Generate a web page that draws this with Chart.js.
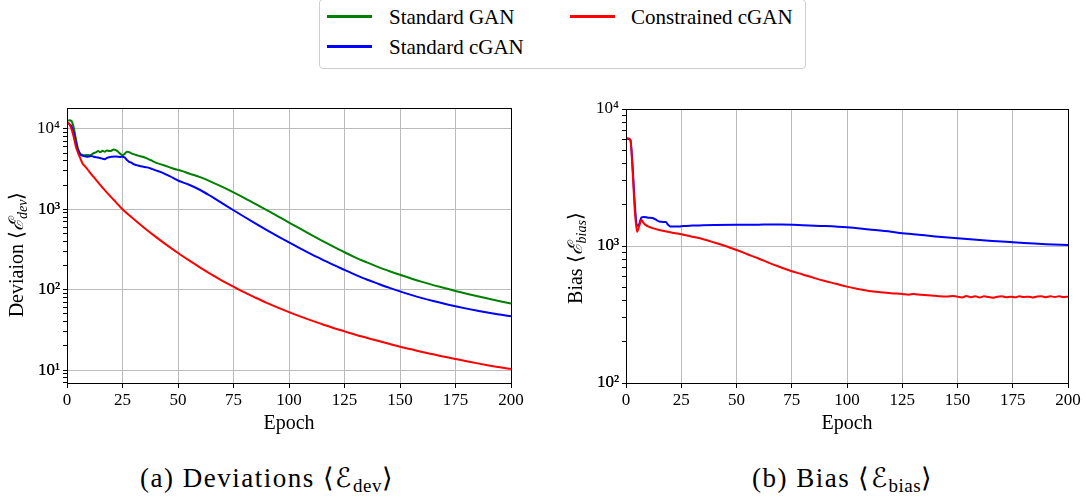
<!DOCTYPE html>
<html>
<head>
<meta charset="utf-8">
<script src="https://cdn.jsdelivr.net/npm/chart.js@4.4.1/dist/chart.umd.min.js"></script>
<style>
  body { margin: 0; background: #fff; width: 1086px; height: 499px; position: relative; overflow: hidden; font-family: "Liberation Serif", serif; color: #000; }
  .box { position: absolute; }
  #legend { position: absolute; left: 319px; top: -1px; width: 485px; height: 68px; border: 1px solid #cfcfcf; border-radius: 4px; background: #fff; }
  .item { position: absolute; font-size: 21px; line-height: 21px; white-space: nowrap; }
  .swatch { position: absolute; width: 45px; height: 2.5px; }
  .caption { position: absolute; top: 465px; font-family: "Liberation Serif", serif; font-size: 27px; line-height: 27px; letter-spacing: 1.5px; white-space: nowrap; }
  .caption sub { font-size: 19px; vertical-align: -5px; letter-spacing: 0.5px; }
</style>
</head>
<body>
<div id="legend">
  <div class="swatch" style="left:7px;top:15px;background:#008000"></div>
  <div class="item" style="left:69px;top:7px">Standard GAN</div>
  <div class="swatch" style="left:7px;top:45px;background:#0000ff"></div>
  <div class="item" style="left:69px;top:37px">Standard cGAN</div>
  <div class="swatch" style="left:250px;top:15px;background:#ff0000"></div>
  <div class="item" style="left:311px;top:7px">Constrained cGAN</div>
</div>

<div class="box" style="left:0;top:80px;width:540px;height:370px"><canvas id="devChart" width="540" height="370"></canvas></div>
<div class="box" style="left:545px;top:80px;width:541px;height:370px"><canvas id="biasChart" width="541" height="370"></canvas></div>

<div class="caption" style="left:140px">(a) Deviations &#x27E8;&#x2130;<sub>dev</sub>&#x27E9;</div>
<div class="caption" style="left:752px">(b) Bias &#x27E8;&#x2130;<sub>bias</sub>&#x27E9;</div>

<script>
// Deviations (left panel)
var devGanEpochs = [0,1,2,3,4,5,6,7,8,9,10,11,12,13,14,15,16,17,18,19,20,21,22,23,24,25,26,27,28,29,30,
    32,34,36,38,40,42,44,46,48,50,52,
    55,60,65,70,75,80,85,90,95,100,105,110,115,120,125,130,135,140,145,150,155,160,165,170,175,180,185,190,195,200];
var devGan = [12600,12800,12600,10500,7500,5600,4900,4750,4700,4750,4700,4800,5000,5100,5300,5150,5350,5200,5400,5300,5350,5550,5450,5200,4900,4700,4900,5200,5150,4950,4850,
    4650,4500,4300,4050,3800,3650,3500,3350,3200,3090,2985,
    2786,2512,2198,1897,1622,1377,1161,977,818,684,573,481,405,343,292,251,219,192,171,153,138,125,114,105,96.4,89.1,82.6,76.9,71.8,67.3];

var devCganEpochs = [0,1,2,3,4,5,6,7,8,9,10,11,12,13,14,15,16,17,18,19,20,
    22,24,25,26,27,28,29,30,32,34,36,38,40,42,44,46,48,50,
    55,60,65,70,75,80,85,90,95,100,105,110,115,120,125,130,135,140,145,150,155,160,165,170,175,180,185,190,195,200];
var devCgan = [11800,11500,10800,9000,6800,5400,4800,4650,4550,4500,4550,4600,4500,4450,4400,4350,4250,4200,4350,4450,4500,
    4520,4480,4500,4400,4100,3900,3800,3650,3500,3400,3320,3200,3050,2920,2760,2600,2440,2280,
    2018,1738,1445,1186,973,802,664,552,461,387,327,277,237,203,176,153,134,119,106,95.1,86.1,78.5,72.1,66.7,62.1,58.1,54.6,51.5,49.0,46.8];

var devConEpochs = [0,1,2,3,4,5,6,7,8,9,10,12,14,16,18,20,22,25,
    30,35,40,45,50,55,60,65,70,75,80,85,90,95,100,105,110,115,120,125,130,135,140,145,150,155,160,165,170,175,180,185,190,195,200];
var devCon = [12200,11500,10000,8000,6000,5000,4300,3700,3450,3200,2950,2523,2163,1862,1614,1406,1230,1000,
    757,582,454,358,286,231,188,155,129,109,92.3,79.3,68.5,59.8,52.6,46.6,41.5,37.2,33.4,30.3,27.5,25.2,23.1,21.2,19.5,18.1,16.8,15.7,14.6,13.7,12.9,12.1,11.4,10.8,10.3];

// Bias (right panel)
var biasCganEpochs = [0,1,2,3,4,5,6,7,8,10,12,14,15,17,18,19,20,22,24,26,30,35,40,50,60,70,80,90,100,110,120,125,130,140,150,160,170,175,180,190,200];
var biasCgan = [6100,6050,5900,3800,2000,1400,1450,1620,1630,1610,1600,1540,1510,1500,1500,1430,1390,1385,1390,1400,1410,1420,1425,1430,1432,1433,1420,1400,1370,1320,1270,1240,1220,1175,1137,1105,1078,1064,1050,1030,1016];

var biasConEpochs = [0,1,2,3,4,5,6,7,8,9,10,12,15,20,25,30,35,40,45,50,55,60,65,70,75,80,85,90,95,100,105,110,115,120,125,128,130,132,135,138,140,142,145,148,150,152,154,156,158,160,162,164,166,168,170,172,174,176,178,180,182,184,186,188,190,192,194,196,198,200];
var biasCon = [6150,6100,5950,3500,1800,1270,1400,1550,1470,1420,1390,1350,1310,1260,1220,1170,1120,1060,1000,935,870,810,750,700,655,620,585,555,530,505,485,470,460,452,447,441,447,442,438,436,433,430,428,431,427,421,431,423,429,421,430,424,419,426,429,423,427,422,429,424,427,421,428,430,423,429,425,429,424,427];

var devDecades = [10, 100, 1000, 10000];
var biasDecades = [100, 1000, 10000];
var epochTicks = [0, 25, 50, 75, 100, 125, 150, 175, 200];

var SUP = { '1': '\u00B9', '2': '\u00B2', '3': '\u00B3', '4': '\u2074' };
var GRID = '#bbbbbb';

function pts(xs, ys) {
    return xs.map(function (x, i) { return { x: x, y: ys[i] }; });
}

function line(label, color, xs, ys, order) {
    return {
        label: label,
        data: pts(xs, ys),
        borderColor: color,
        backgroundColor: color,
        borderWidth: 2,
        pointRadius: 0,
        cubicInterpolationMode: 'monotone',
        order: order
    };
}

// draws the y title with italic script E and subscript
var axisTitle = {
    id: 'axisTitle',
    afterDraw: function (chart, args, opts) {
        var ctx = chart.ctx;
        var a = chart.chartArea;
        ctx.save();
        ctx.translate(opts.x, (a.top + a.bottom) / 2 + opts.shift);
        ctx.rotate(-Math.PI / 2);
        ctx.fillStyle = '#000';
        ctx.textBaseline = 'alphabetic';
        var parts = [
            { t: opts.word + ' \u27E8', f: '20px "Liberation Serif"', dy: 0 },
            { t: '\u2130', f: 'italic 20px "Liberation Serif"', dy: 0 },
            { t: opts.sub, f: 'italic 14px "Liberation Serif"', dy: 4 },
            { t: '\u27E9', f: '20px "Liberation Serif"', dy: 0 }
        ];
        var w = 0;
        parts.forEach(function (p) { ctx.font = p.f; p.w = ctx.measureText(p.t).width; w += p.w; });
        var x = -w / 2;
        parts.forEach(function (p) { ctx.font = p.f; ctx.fillText(p.t, x, 7 + p.dy); x += p.w; });
        ctx.restore();
    }
};

// black box round the plot area
var frame = {
    id: 'frame',
    afterDraw: function (chart) {
        var ctx = chart.ctx;
        var a = chart.chartArea;
        ctx.save();
        ctx.strokeStyle = '#000';
        ctx.lineWidth = 1;
        ctx.strokeRect(Math.round(a.left) + 0.5, Math.round(a.top) + 0.5, Math.round(a.right - a.left), Math.round(a.bottom - a.top));
        ctx.restore();
    }
};

function makeChart(canvasId, datasets, decades, ymin, ymax, pad, yWidth, title) {
    var canvas = document.getElementById(canvasId);
    var tickFont = { family: 'Liberation Serif', size: 17 };
    return new Chart(canvas, {
        type: 'line',
        data: { datasets: datasets },
        plugins: [axisTitle, frame],
        options: {
            responsive: false,
            animation: false,
            layout: { padding: pad },
            plugins: {
                legend: { display: false },
                tooltip: { enabled: false },
                axisTitle: title
            },
            scales: {
                x: {
                    type: 'linear',
                    min: 0,
                    max: 200,
                    afterBuildTicks: function (s) { s.ticks = epochTicks.map(function (v) { return { value: v }; }); },
                    afterFit: function (s) { s.height = 67; },
                    ticks: { color: '#000', font: tickFont, padding: 2, maxRotation: 0, autoSkip: false },
                    grid: { color: GRID, tickColor: '#000', tickLength: 5 },
                    border: { display: true, color: '#000', width: 1 },
                    title: {
                        display: true,
                        text: 'Epoch',
                        color: '#000',
                        font: { family: 'Liberation Serif', size: 20 },
                        padding: { top: 0, bottom: 14 }
                    }
                },
                y: {
                    type: 'logarithmic',
                    min: ymin,
                    max: ymax,
                    afterBuildTicks: function (s) {
                        var t = [];
                        decades.forEach(function (d) {
                            for (var k = 1; k < 10; k++) {
                                var v = d * k / 10;
                                if (v >= ymin && v <= ymax) t.push({ value: v });
                            }
                            if (d >= ymin && d <= ymax && t.every(function (o) { return o.value !== d; })) t.push({ value: d });
                        });
                        t.sort(function (p, q) { return p.value - q.value; });
                        s.ticks = t;
                    },
                    afterFit: function (s) { s.width = yWidth; },
                    ticks: {
                        color: '#000',
                        font: tickFont,
                        padding: 3,
                        autoSkip: false,
                        callback: function (v) {
                            var i = decades.indexOf(v);
                            if (i < 0) return '';
                            return '10' + SUP[String(Math.round(Math.log10(v)))];
                        }
                    },
                    grid: {
                        color: function (c) { return decades.indexOf(c.tick.value) >= 0 ? GRID : 'rgba(0,0,0,0)'; },
                        tickColor: '#000',
                        tickLength: 4
                    },
                    border: { display: true, color: '#000', width: 1 }
                }
            }
        }
    });
}

makeChart('devChart', [
    line('Constrained cGAN', '#ff0000', devConEpochs, devCon, 0),
    line('Standard cGAN', '#0000ff', devCganEpochs, devCgan, 1),
    line('Standard GAN', '#008000', devGanEpochs, devGan, 2)
], devDecades, 6.9, 18200, { left: 0, right: 29, top: 28, bottom: 0 }, 67,
   { x: 16, shift: 9, word: 'Deviaion', sub: 'dev' });

makeChart('biasChart', [
    line('Constrained cGAN', '#ff0000', biasConEpochs, biasCon, 0),
    line('Standard cGAN', '#0000ff', biasCganEpochs, biasCgan, 1)
], biasDecades, 100, 10000, { left: 0, right: 18, top: 29, bottom: 0 }, 81,
   { x: 30, shift: 12, word: 'Bias', sub: 'bias' });
</script>
</body>
</html>
